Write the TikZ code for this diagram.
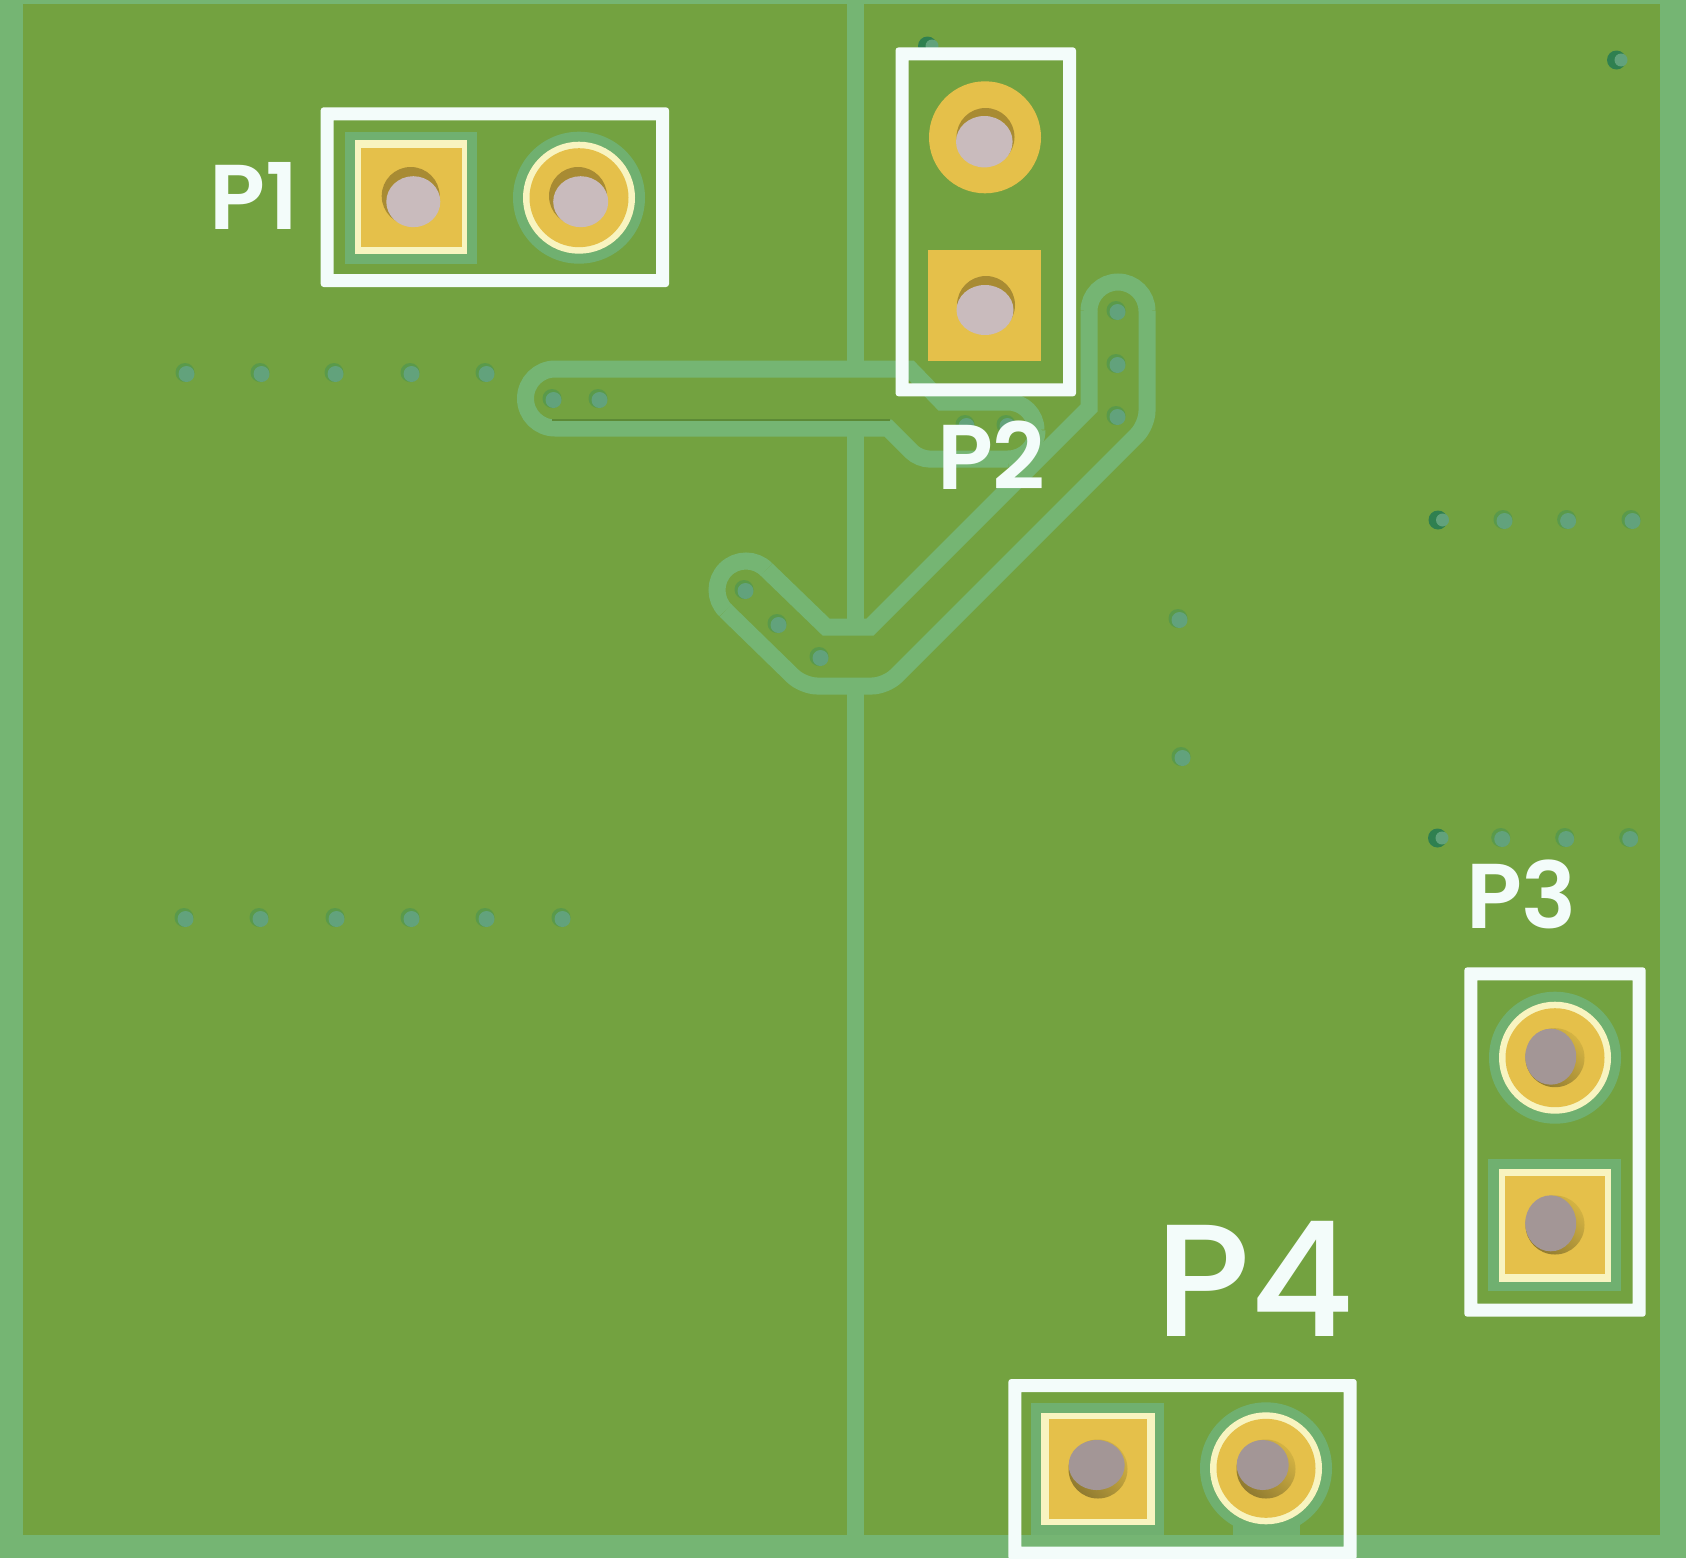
\documentclass[tikz,border=0pt]{standalone}
\usepackage{fontspec}
\newfontfamily\lblfont{Poppins}[UprightFont=* SemiBold]
\newfontfamily\lblfontb{Poppins}[UprightFont=* Medium]
\definecolor{board}{HTML}{73A240}
\definecolor{edge}{HTML}{75B573}
\definecolor{maskc}{HTML}{70B070}
\definecolor{silk}{HTML}{F3FCFA}
\definecolor{gold}{HTML}{E5C04A}
\definecolor{pale}{HTML}{F8F4C0}
\definecolor{holelight}{HTML}{C9BBBD}
\definecolor{holedark}{HTML}{A39696}
\definecolor{holeshadow}{HTML}{A88B33}
\definecolor{shadowlow}{HTML}{8F7A30}
\definecolor{shadowhigh}{HTML}{D4B343}
\definecolor{viadark}{HTML}{5A9A4A}
\definecolor{vialight}{HTML}{62A27C}
\definecolor{viadeep}{HTML}{2F8050}
\definecolor{slotshade}{HTML}{5C8A36}
\tikzset{
  x=1pt,y=-1pt,
  trackline/.style={draw=edge,line width=17pt,line join=miter},
  lbl/.style={text=silk,inner sep=0pt,outer sep=0pt,anchor=base west}
}
\newcommand{\viahole}[2]{%
  \fill[viadark] ({#1-2},{#2-0.5}) circle[radius=9.5];
  \fill[vialight] ({#1-0.5},{#2+1}) circle[radius=8];}
\newcommand{\viadeephole}[2]{%
  \fill[viadeep] ({#1-1.5},{#2}) circle[radius=9.5];
  \fill[vialight] ({#1+3},{#2}) circle[radius=6.5];}
% shadow x y, grey x y, rx ry
\newcommand{\drilltop}[6]{%
  \fill[holeshadow] (#1,#2) circle[radius=29];
  \fill[holelight] (#3,#4) ellipse[x radius=#5,y radius=#6];}
\newcommand{\drillbottom}[6]{%
  \shade[bottom color=shadowlow,top color=shadowhigh,shading angle=-45] (#1,#2) circle[radius=29.5];
  \fill[holedark] (#3,#4) ellipse[x radius=#5,y radius=#6];}
\newcommand{\silkframe}[4]{%
  \fill[silk,even odd rule,rounded corners=3pt] (#1,#2) rectangle (#3,#4)
    [sharp corners] ({#1+13},{#2+13}) rectangle ({#3-13},{#4-13});}
\begin{document}
\begin{tikzpicture}
\useasboundingbox (0,0) rectangle (1686,1558);
\fill[edge] (0,0) rectangle (1686,1558);
\fill[board] (22.5,3.5) rectangle (1660,1535);
% tracks
\draw[trackline] (855.5,0) -- (855.5,369);
\draw[trackline] (855.5,428) -- (855.5,627);
\draw[trackline] (855.5,686) -- (855.5,1535);
% slot outline
\draw[trackline] (1036,430) arc[start angle=0,end angle=-90,radius=28]
  -- (942,402) -- (910,369) -- (555,369)
  arc[start angle=-90,end angle=-270,radius=29.5]
  -- (888,428) [rounded corners=10pt] -- (919,459) -- (1008,459);
\draw[trackline] (1008,459) arc[start angle=90,end angle=0,radius=29];
\draw[slotshade,line width=1.2pt] (552,420) -- (890,420);
% V outline
\draw[trackline,rounded corners=14pt] (1147,311) -- (1147,425) -- (886,686) -- (803,686) -- (725.5,610.5);
\draw[trackline] (766.5,569.5) -- (826,627) -- (870,627) -- (1089,408) -- (1089,311);
\draw[trackline] (1089,311) arc[start angle=180,end angle=360,radius=29];
\draw[trackline] (725.5,610.5) arc[start angle=135,end angle=315,radius=29];
% P1 pads
\fill[maskc] (344.7,131.7) rectangle (477.3,264);
\fill[pale] (354.7,140) rectangle (467,254);
\fill[gold] (360.7,148) rectangle (461.7,246.7);
\drilltop{410.7}{196}{413.3}{201.7}{27}{25.5}
\fill[maskc] (579,197.7) circle[radius=66];
\fill[pale] (579,197.7) circle[radius=56];
\fill[gold] (579,197.7) circle[radius=49.5];
\drilltop{578}{196}{580.7}{201.7}{27.5}{25.5}
% P2 pads
\fill[gold] (985,137.3) circle[radius=56];
\drilltop{985.5}{137}{984.3}{141.7}{28.3}{25.7}
\fill[gold] (928.4,249.8) rectangle (1041,361);
\drilltop{986}{305}{985}{310}{28.5}{25}
% P3 pads
\fill[maskc] (1555,1057.7) circle[radius=66];
\fill[pale] (1555,1057.7) circle[radius=56];
\fill[gold] (1555,1057.7) circle[radius=49.5];
\drillbottom{1555}{1057.7}{1550.7}{1056.7}{25.5}{28}
\fill[maskc] (1488.3,1159.3) rectangle (1621,1291);
\fill[pale] (1499,1169) rectangle (1611,1282);
\fill[gold] (1505.3,1176.3) rectangle (1604.7,1274.3);
\drillbottom{1555}{1225}{1550.7}{1223.3}{25.5}{28}
% P4 pads
\fill[maskc] (1031,1402.7) rectangle (1163.7,1535);
\fill[pale] (1041,1413.3) rectangle (1154.7,1525);
\fill[gold] (1049,1419) rectangle (1147,1519);
\drillbottom{1098}{1469}{1096.7}{1465}{28}{25}
\fill[maskc] (1232.7,1500) rectangle (1300,1535);
\fill[maskc] (1266,1468.3) circle[radius=66];
\fill[pale] (1266,1468.3) circle[radius=56];
\fill[gold] (1266,1468.3) circle[radius=49.5];
\drillbottom{1266}{1469}{1262.7}{1465}{26}{25}
% vias
\foreach \vx in {187,262,336,412,487} {\viahole{\vx}{373}}
\foreach \vx in {186,261,337,412,487,563} {\viahole{\vx}{918}}
\foreach \vx in {1505,1568.6,1633} {\viahole{\vx}{520}}
\foreach \vx in {1502.7,1566.7,1630.7} {\viahole{\vx}{838}}
\viadeephole{1439.5}{520}
\viadeephole{1439}{838}
\viahole{554}{399}
\viahole{600}{399}
\viahole{1118}{311}
\viahole{1118}{364}
\viahole{1118}{416}
\viahole{746}{590}
\viahole{779}{624}
\viahole{821}{657}
\viahole{967}{425}
\viahole{1008}{425}
\viahole{1180}{619}
\viahole{1183}{757}
\viadeephole{1618}{60}
\viadeephole{929}{46}
% silkscreen
\silkframe{320.7}{107.3}{669}{287}
\silkframe{895.5}{47.4}{1076}{396.3}
\silkframe{1464.3}{967.3}{1645.7}{1316.7}
\silkframe{1008.3}{1379}{1356.7}{1559.7}
% labels
\node[lbl] (lp1) at (209.5,229.3) {\lblfont\fontsize{92}{92}\selectfont P1};
\node[lbl] (lp2) at (937,489) {\lblfont\fontsize{92}{92}\selectfont P2};
\node[lbl] (lp3) at (1466,928) {\lblfont\fontsize{92}{92}\selectfont P3};
\node[lbl] (lp4) at (1155,1336) {\lblfontb\fontsize{160}{160}\selectfont P4};
\end{tikzpicture}
\end{document}
